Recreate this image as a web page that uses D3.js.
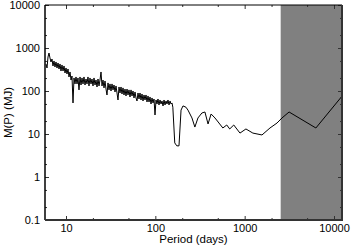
<!DOCTYPE html>
<html>
<head>
<meta charset="utf-8">
<script src="https://cdn.jsdelivr.net/npm/d3@7"></script>
<style>
  body { margin: 0; background: #fff; }
  text { font-family: "Liberation Sans", Arial, sans-serif; }
</style>
</head>
<body>
<div id="chart"></div>
<script>
// period (days) and mass limit M(P) (MJ)
const periods = [5.97, 6.13, 6.29, 6.45, 6.62, 6.79, 6.97, 7.15, 7.34, 7.53, 7.73, 7.93, 8.14, 8.35,
  8.57, 8.79, 9.02, 9.26, 9.50, 9.75, 10.0, 10.26, 10.53, 10.80, 11.09, 11.38, 11.67, 11.98, 12.29,
  12.61, 12.94, 13.28, 13.63, 13.98, 14.35, 14.72, 15.11, 15.50, 15.90, 16.32, 16.75, 17.18, 17.63,
  18.09, 18.56, 19.05, 19.55, 20.06, 20.58, 21.12, 21.67, 22.24, 22.82, 23.41, 24.02, 24.65, 25.30,
  25.96, 26.63, 27.33, 28.04, 28.77, 29.53, 30.30, 31.09, 31.90, 32.73, 33.59, 34.47, 35.37, 36.29,
  37.24, 38.21, 39.21, 40.23, 41.28, 42.36, 43.47, 44.60, 45.77, 46.96, 48.19, 49.45, 50.74, 52.06,
  53.42, 54.82, 56.25, 57.72, 59.22, 60.77, 62.36, 63.99, 65.66, 67.37, 69.13, 70.94, 72.79, 74.69,
  76.64, 78.64, 80.70, 82.80, 84.97, 87.19, 89.46, 91.80, 94.20, 96.65, 99.18, 101.8, 104.4, 107.1,
  109.9, 112.8, 115.8, 118.8, 121.9, 125.1, 128.3, 131.7, 135.1, 138.6, 142.3, 146.0, 149.8, 153.7,
  157, 165, 174, 184, 194, 204, 220, 232, 257, 277, 300, 332, 359, 389, 421, 465, 505, 570, 630,
  680, 755, 886, 1033, 1236, 1563, 1920, 2302, 2618, 3142, 6270, 12300];
const masses = [425, 343, 618, 765, 586, 473, 555, 382, 499, 362, 473, 343, 448, 325,
  425, 292, 403, 292, 382, 262, 343, 249, 325, 212, 277, 180, 223, 52.7, 201,
  146, 212, 146, 201, 106, 212, 138, 201, 146, 212, 138, 190, 146, 212,
  131, 201, 146, 190, 131, 201, 138, 180, 124, 190, 131, 180, 277, 131,
  180, 118, 171, 111, 80.8, 154, 106, 146, 100, 146, 106, 138, 94.9, 131,
  89.9, 61.8, 124, 89.9, 124, 85.2, 118, 80.8, 111, 76.6, 111, 80.8, 106, 72.6,
  106, 76.6, 100, 68.8, 94.9, 68.8, 58.6, 89.9, 65.2, 89.9, 61.8, 85.2, 58.6, 80.8,
  61.8, 80.8, 55.6, 76.6, 55.6, 72.6, 49.9, 68.8, 52.7, 65.2, 27.7, 61.8, 49.9, 65.2,
  47.3, 61.8, 49.9, 58.6, 44.8, 61.8, 47.3, 58.6, 49.9, 61.8, 47.3, 58.6, 49.9, 52.7,
  42, 6.2, 5.3, 5.3, 36, 45, 42, 36, 23.6, 14.5, 23.6, 30.8, 32.5, 17.1, 29.2, 23.6, 19.0, 13.8, 16.2,
  13.1, 16.2, 10.5, 13.1, 10.5, 9.5, 13.8, 18.0, 23.6, 32.5, 13.8, 76];

// shaded band: periods beyond the survey baseline
const shadeFrom = 2530;

const xTicks = [10, 100, 1000, 10000];
const yTicks = [0.1, 1, 10, 100, 1000, 10000];
const minorMult = [2, 5];

const W = 353, H = 246;
const margin = { top: 5, right: 11, bottom: 26, left: 45 };
const width = W - margin.left - margin.right;
const height = H - margin.top - margin.bottom;

const svg = d3.select('#chart').append('svg')
  .attr('width', W)
  .attr('height', H);

const g = svg.append('g')
  .attr('transform', `translate(${margin.left},${margin.top})`);

const x = d3.scaleLog().domain([5.82, 12290]).range([0, width]);
const y = d3.scaleLog().domain([0.1, 10000]).range([height, 0]);

const minor = dom => {
  const out = [];
  for (let d = 0.001; d <= 100000; d *= 10) {
    minorMult.forEach(m => {
      const v = d * m;
      if (v > dom[0] && v < dom[1]) out.push(v);
    });
  }
  return out;
};
const xMinor = minor(x.domain());
const yMinor = minor(y.domain());

g.append('clipPath').attr('id', 'clip')
  .append('rect').attr('width', width).attr('height', height);

// gray band
g.append('rect')
  .attr('x', x(shadeFrom))
  .attr('y', 0)
  .attr('width', width - x(shadeFrom))
  .attr('height', height)
  .attr('fill', '#808080');

const data = periods.map((p, i) => ({ p, m: masses[i] }));

g.append('path')
  .datum(data)
  .attr('clip-path', 'url(#clip)')
  .attr('fill', 'none')
  .attr('stroke', '#000')
  .attr('stroke-width', 1)
  .attr('d', d3.line().x(d => x(d.p)).y(d => y(d.m)));

const fmt = d => String(d);

function styleAxis(sel) {
  sel.select('.domain').remove();
  sel.selectAll('line').attr('stroke', '#333');
  sel.selectAll('text').style('font-size', '11px').attr('fill', '#000');
}

// major ticks with labels
g.append('g')
  .call(d3.axisLeft(y).tickValues(yTicks).tickFormat(fmt).tickSize(-4).tickPadding(5))
  .call(styleAxis);
g.append('g')
  .attr('transform', `translate(0,${height})`)
  .call(d3.axisBottom(x).tickValues(xTicks).tickFormat(fmt).tickSize(-4).tickPadding(4))
  .call(styleAxis);
g.append('g')
  .attr('transform', `translate(${width},0)`)
  .call(d3.axisRight(y).tickValues(yTicks).tickFormat('').tickSize(-4))
  .call(styleAxis);
g.append('g')
  .call(d3.axisTop(x).tickValues(xTicks).tickFormat('').tickSize(-4))
  .call(styleAxis);

// minor ticks
g.append('g').call(d3.axisLeft(y).tickValues(yMinor).tickFormat('').tickSize(-2)).call(styleAxis);
g.append('g').attr('transform', `translate(${width},0)`)
  .call(d3.axisRight(y).tickValues(yMinor).tickFormat('').tickSize(-2)).call(styleAxis);
g.append('g').attr('transform', `translate(0,${height})`)
  .call(d3.axisBottom(x).tickValues(xMinor).tickFormat('').tickSize(-2)).call(styleAxis);
g.append('g').call(d3.axisTop(x).tickValues(xMinor).tickFormat('').tickSize(-2)).call(styleAxis);

// frame
g.append('line').attr('x1', 0).attr('x2', width).attr('y1', 0).attr('y2', 0)
  .attr('stroke', '#000').attr('stroke-width', 1);
g.append('line').attr('x1', 0).attr('x2', 0).attr('y1', 0).attr('y2', height)
  .attr('stroke', '#000').attr('stroke-width', 1.5);
g.append('line').attr('x1', 0).attr('x2', width + 1).attr('y1', height).attr('y2', height)
  .attr('stroke', '#333').attr('stroke-width', 2);
g.append('line').attr('x1', width).attr('x2', width).attr('y1', 0).attr('y2', height)
  .attr('stroke', '#333').attr('stroke-width', 2);

// axis titles
svg.append('text')
  .attr('x', margin.left + width / 2)
  .attr('y', H - 3)
  .attr('text-anchor', 'middle')
  .style('font-size', '11.5px')
  .text('Period (days)');

svg.append('text')
  .attr('transform', `translate(12,${margin.top + height / 2}) rotate(-90)`)
  .attr('text-anchor', 'middle')
  .style('font-size', '11.5px')
  .text('M(P) (MJ)');
</script>
</body>
</html>
